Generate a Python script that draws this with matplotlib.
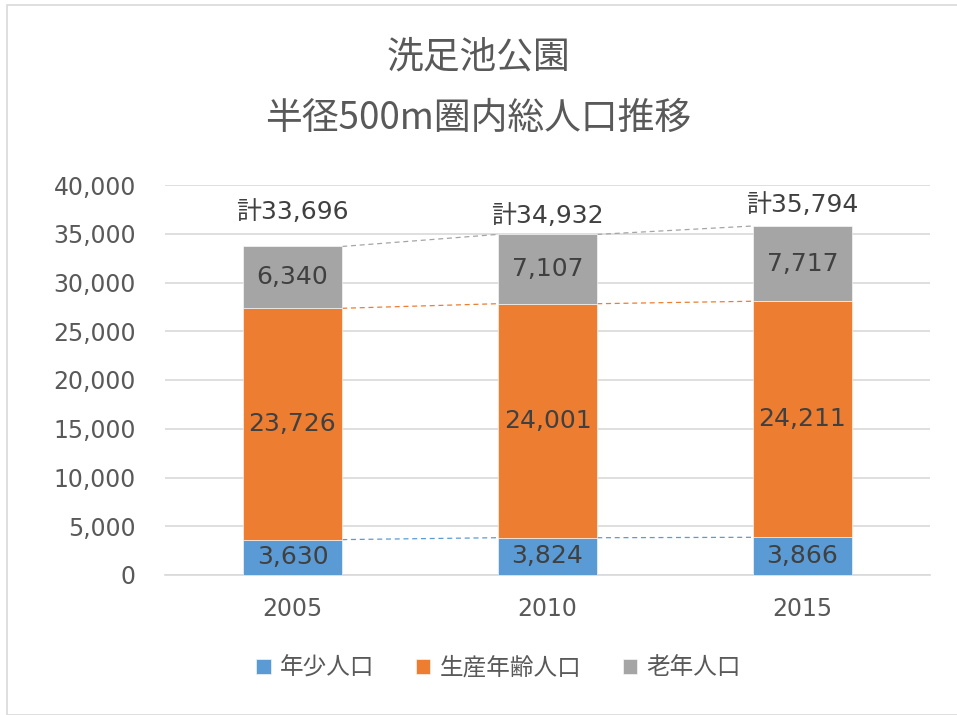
import matplotlib
matplotlib.use("Agg")
import matplotlib.pyplot as plt
from matplotlib.patches import Rectangle

plt.rcParams["font.family"] = ["Noto Sans CJK JP", "DejaVu Sans"]
NUM_FONT = ["DejaVu Sans", "Noto Sans CJK JP"]

years = ["2005", "2010", "2015"]
young = [3630, 3824, 3866]
working = [23726, 24001, 24211]
elderly = [6340, 7107, 7717]
totals = [33696, 34932, 35794]
series_names = ["年少人口", "生産年齢人口", "老年人口"]
colors = ["#5B9BD5", "#ED7D31", "#A5A5A5"]
title_text = "洗足池公園\n半径500m圏内総人口推移"
# label lift above each bar top, in points (hand-placed in the original)
total_label_lift = [24.5, 13.5, 15]

fig = plt.figure(figsize=(9.57, 7.15), dpi=100)
fig.patches.append(Rectangle((7 / 957, 0.0), 1.0, 1 - 5 / 715, transform=fig.transFigure,
                             fill=False, edgecolor="#D9D9D9", linewidth=1.2))
ax = fig.add_axes([165 / 957, 1 - 575 / 715, 765 / 957, 390 / 715])

x = list(range(len(years)))
width = 0.39
bottoms = [0] * len(years)
for vals, name, col in zip([young, working, elderly], series_names, colors):
    ax.bar(x, vals, width, bottom=bottoms, color=col, label=name, zorder=3,
           edgecolor="white", linewidth=0.4)
    for i, v in enumerate(vals):
        ax.text(x[i], bottoms[i] + v / 2, f"{v:,}", ha="center", va="center",
                fontsize=18, color="#404040", zorder=4, family=NUM_FONT)
    tops = [b + v for b, v in zip(bottoms, vals)]
    # dashed series lines between bars
    for i in range(len(years) - 1):
        ax.plot([x[i] + width / 2, x[i + 1] - width / 2], [tops[i], tops[i + 1]],
                linestyle=(0, (4, 3)), color=col, linewidth=0.9, zorder=2)
    bottoms = tops

for i, t in enumerate(totals):
    ax.annotate(f"計{t:,}", (x[i], t), xytext=(0, total_label_lift[i]),
                textcoords="offset points", ha="center", va="center",
                fontsize=18, color="#404040", family=NUM_FONT)

ax.set_xlim(-0.5, 2.5)
ax.set_ylim(0, 40000)
ax.set_yticks(range(0, 40001, 5000))
ax.set_yticklabels([f"{v:,}" for v in range(0, 40001, 5000)])
ax.set_xticks(x)
ax.set_xticklabels(years)
for lbl in ax.get_xticklabels() + ax.get_yticklabels():
    lbl.set_family(NUM_FONT)
ax.grid(axis="y", color="#D9D9D9", linewidth=1.2, zorder=0)
for s in ["top", "right", "left"]:
    ax.spines[s].set_visible(False)
ax.spines["bottom"].set_color("#D9D9D9")
ax.spines["bottom"].set_linewidth(1.2)
ax.tick_params(axis="both", length=0, labelsize=17, colors="#595959")
ax.tick_params(axis="x", pad=16)
ax.tick_params(axis="y", pad=21)

fig.text(0.5, 1 - 88 / 715, title_text, ha="center", va="center",
         fontsize=26.5, color="#595959", linespacing=1.75)

handles, labels = ax.get_legend_handles_labels()
fig.legend(handles, labels, loc="center", bbox_to_anchor=(0.521, 1 - 668 / 715),
           ncol=3, frameon=False, fontsize=17, handlelength=0.6, handleheight=0.6,
           columnspacing=1.75, handletextpad=0.4, labelcolor="#595959")

fig.savefig("out.png", dpi=100)
